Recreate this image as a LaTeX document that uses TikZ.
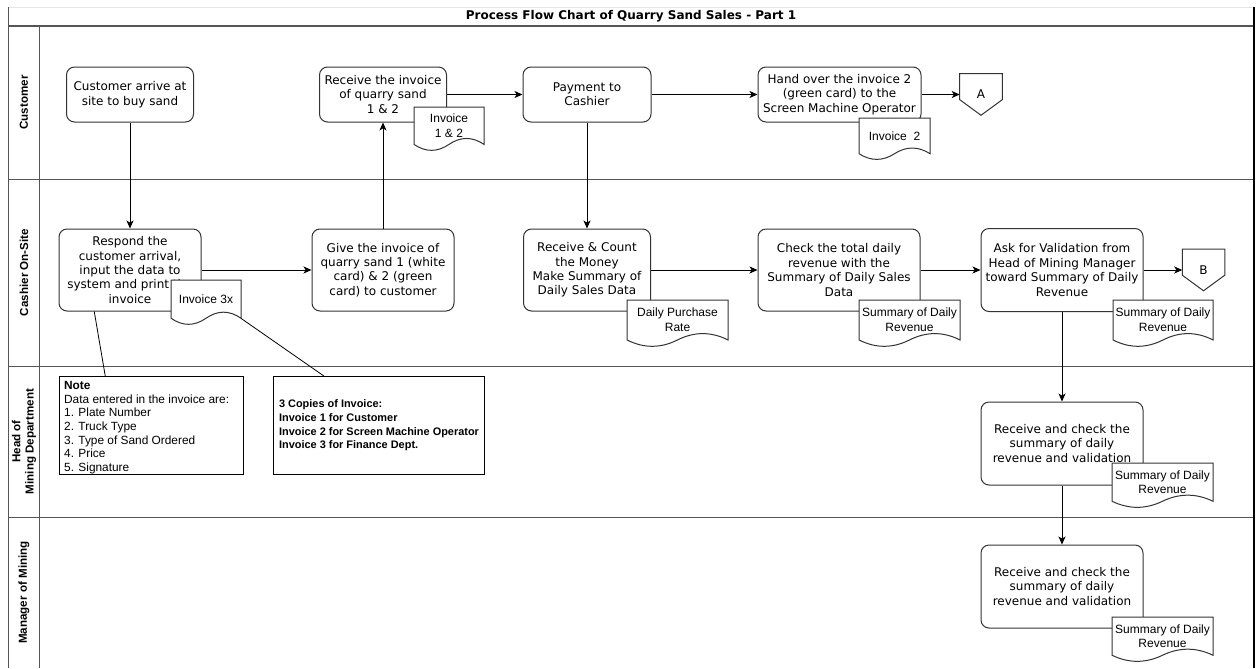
\documentclass[tikz,border=0pt]{standalone}
\usepackage{fontspec}
\setmainfont{DejaVu Sans}
\newfontfamily\helv{Liberation Sans}
\usetikzlibrary{arrows.meta,calc}

\definecolor{edge}{HTML}{333333}
\definecolor{lanegray}{HTML}{555555}
\definecolor{topgray}{HTML}{E6E6E6}

\tikzset{
  sz/.style 2 args={minimum width={(#1)*0.75pt}, minimum height={(#2)*0.75pt}},
  proc/.style={draw=edge, fill=white, rounded corners=6pt, line width=0.75pt,
    align=center, inner sep=0pt, font=\fontsize{9}{10.8}\selectfont},
  doctext/.style={inner sep=0pt, align=center, font=\helv\fontsize{9}{11}\selectfont},
  docline/.style={draw=edge, fill=white, line width=0.75pt},
  flow/.style={draw=black, line width=0.75pt, -{Stealth[length=6pt,width=5.25pt,inset=1.6pt]}},
  link/.style={draw=black, line width=0.6pt},
  lanerule/.style={draw=lanegray, line width=0.75pt},
  lanelabel/.style={rotate=90, align=center, font=\helv\bfseries\fontsize{8.7}{10}\selectfont},
  offpage/.style={inner sep=0pt, sz={42}{41}, font=\fontsize{9}{10.8}\selectfont},
  offline/.style={draw=edge, line width=0.75pt},
  notebox/.style={draw=black, fill=white, line width=0.75pt, inner sep=0pt},
}

% document symbol: name, left x, top y, width, height, text
\newcommand\docat[6]{%
  \path[docline] (#2,#3) -- ({#2+#4},#3) -- ({#2+#4},{#3+0.85*#5})
    .. controls ({#2+5*#4/6},{#3+0.67*#5}) and ({#2+2*#4/3},{#3+0.67*#5}) .. ({#2+#4/2},{#3+0.85*#5})
    .. controls ({#2+#4/3},{#3+1.03*#5}) and ({#2+#4/6},{#3+1.03*#5}) .. (#2,{#3+0.85*#5}) -- cycle;
  \node[doctext, sz={#4}{0.85*#5}] (#1) at ({#2+#4/2},{#3+0.425*#5}) {#6};
}

% off-page connector drawn round a named node
\newcommand\offpageoutline[1]{%
  \draw[offline] (#1.north west) -- (#1.north east)
    -- ($(#1.south east)!0.375!(#1.north east)$) -- (#1.south)
    -- ($(#1.south west)!0.375!(#1.north west)$) -- cycle;
}

\begin{document}
\begin{tikzpicture}[x=0.75pt,y=-0.75pt]
\fill[white] (0,0) rectangle (1259,668);
\useasboundingbox (0,0) rectangle (1259,668);

% pool and lanes
\draw[topgray, line width=0.75pt] (8,7) -- (1254,7);
\draw[lanegray, line width=1.1pt] (8,26) -- (1254,26);
\draw[lanerule] (8,179) -- (1254,179);
\draw[lanerule] (8,366) -- (1254,366);
\draw[lanerule] (8,517) -- (1254,517);
\draw[lanerule] (8,7) -- (8,668);
\draw[lanerule] (39,26) -- (39,668);
\draw[black, line width=1.5pt] (1254,7) -- (1254,668);

\node[font=\bfseries\fontsize{9}{10.8}\selectfont] (title) at (631,16)
  {Process Flow Chart of Quarry Sand Sales - Part 1};

\node[lanelabel] (laneA) at (24,102.5) {Customer};
\node[lanelabel] (laneB) at (24,272.5) {Cashier On-Site};
\node[lanelabel] (laneC) at (24,441.5) {Head of\\Mining Department};
\node[lanelabel] (laneD) at (24,592.5) {Manager of Mining};

% process steps
\node[proc, sz={127}{55}] (c1) at (130,94.5) {Customer arrive at\\site to buy sand};
\node[proc, sz={127}{55}] (c2) at (383,94.5) {Receive the invoice\\of quarry sand\\1 \& 2};
\node[proc, sz={128}{55}] (c3) at (587,94.5) {Payment to\\Cashier};
\node[proc, sz={163}{55}] (c4) at (839.5,94.5) {Hand over the invoice 2\\(green card) to the\\Screen Machine Operator};

\node[proc, sz={142}{82}] (k1) at (130,270) {Respond the\\customer arrival,\\input the data to\\system and print the\\invoice};
\node[proc, sz={142}{82}] (k2) at (383,270) {Give the invoice of\\quarry sand 1 (white\\card) \& 2 (green\\card) to customer};
\node[proc, sz={127}{82}] (k3) at (587,270) {Receive \& Count\\the Money\\Make Summary of\\Daily Sales Data};
\node[proc, sz={162}{82}] (k4) at (839,270) {Check the total daily\\revenue with the\\Summary of Daily Sales\\Data};
\node[proc, sz={162}{83}] (k5) at (1062,270) {Ask for Validation from\\Head of Mining Manager\\toward Summary of Daily\\Revenue};

\node[proc, sz={162}{83}] (h1) at (1062,443.5) {Receive and check the\\summary of daily\\revenue and validation};
\node[proc, sz={162}{83}] (m1) at (1062,586.5) {Receive and check the\\summary of daily\\revenue and validation};

% documents
\docat{d1}{414}{107}{70}{44}{Invoice\\1 \& 2}
\docat{d2}{171}{280}{70}{45}{Invoice 3x}
\docat{d3}{859}{118}{71}{42}{Invoice~ 2}
\docat{d4}{627}{300}{101}{47}{Daily Purchase\\Rate}
\docat{d5}{859}{300}{101}{47}{Summary of Daily\\Revenue}
\docat{d6}{1113}{300}{100}{47}{Summary of Daily\\Revenue}
\docat{d7}{1112}{463}{101}{45}{Summary of Daily\\Revenue}
\docat{d8}{1112}{617}{101}{45}{Summary of Daily\\Revenue}

% off-page connectors
\node[offpage] (A) at (981,94.5) {A};
\offpageoutline{A}
\node[offpage] (B) at (1203.5,270) {B};
\offpageoutline{B}

% notes
\node[notebox, anchor=north west, sz={184}{98}] (n1) at (59,376)
  {\parbox[t][66pt][t]{131pt}{\helv\fontsize{8.9}{10.2}\selectfont
   \textbf{Note}\\
   Data entered in the invoice are:\\
   1. Plate Number\\
   2. Truck Type\\
   3. Type of Sand Ordered\\
   4. Price\\
   5. Signature}};
\node[notebox, anchor=north west, sz={211}{98}, align=left,
      font=\helv\bfseries\fontsize{8.2}{10.2}\selectfont] (n2) at (273,376)
  {3 Copies of Invoice:\\
   Invoice 1 for Customer\\
   Invoice 2 for Screen Machine Operator\\
   Invoice 3 for Finance Dept.};

% flow
\draw[flow] (c1) -- (k1);
\draw[flow] (k1) -- (k2);
\draw[flow] (k2) -- (c2);
\draw[flow] (c2) -- (c3);
\draw[flow] (c3) -- (c4);
\draw[flow] (c4) -- (A);
\draw[flow] (c3) -- (k3);
\draw[flow] (k3) -- (k4);
\draw[flow] (k4) -- (k5);
\draw[flow] (k5) -- (B);
\draw[flow] (k5) -- (h1);
\draw[flow] (h1) -- (m1);

% note links
\draw[link] ($(k1.south west)!0.25!(k1.south east)$) -- ($(n1.north west)!0.25!(n1.north east)$);
\draw[link] (d2.south east) -- ($(n2.north west)!0.24!(n2.north east)$);
\end{tikzpicture}
\end{document}
